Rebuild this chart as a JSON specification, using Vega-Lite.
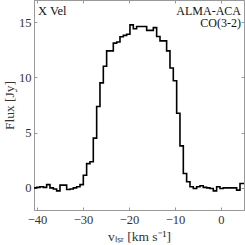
{
  "$schema": "https://vega.github.io/schema/vega-lite/v6.json",
  "width": 210,
  "height": 210,
  "autosize": {"type": "none"},
  "padding": {"left": 34, "top": 0, "right": 1, "bottom": 35},
  "background": "white",
  "config": {
    "view": {"stroke": "#999", "strokeWidth": 1},
    "font": "Liberation Serif",
    "axis": {
      "labelFont": "Liberation Serif",
      "titleFont": "Liberation Serif",
      "labelFontSize": 12.5,
      "titleFontSize": 13.5,
      "titleFontWeight": "normal",
      "labelColor": "#333",
      "titleColor": "#333",
      "domainColor": "#999",
      "tickColor": "#999",
      "tickSize": -3,
      "grid": false
    }
  },
  "layer": [
    {
      "data": {"name": "spec", "values": [
        {"v": -40.80, "flux": 0.0},
        {"v": -40.07, "flux": 0.05},
        {"v": -39.35, "flux": 0.1},
        {"v": -38.63, "flux": 0.05},
        {"v": -37.90, "flux": 0.3},
        {"v": -37.18, "flux": 0.0},
        {"v": -36.45, "flux": -0.1},
        {"v": -35.73, "flux": -0.27},
        {"v": -35.00, "flux": 0.25},
        {"v": -34.28, "flux": 0.25},
        {"v": -33.55, "flux": -0.15},
        {"v": -32.83, "flux": -0.1},
        {"v": -32.10, "flux": 0.0},
        {"v": -31.38, "flux": 0.1},
        {"v": -30.65, "flux": 0.3},
        {"v": -29.93, "flux": 1.15},
        {"v": -29.21, "flux": 2.2},
        {"v": -28.48, "flux": 2.36},
        {"v": -27.76, "flux": 4.5},
        {"v": -27.03, "flux": 7.36},
        {"v": -26.31, "flux": 9.5},
        {"v": -25.58, "flux": 11.0},
        {"v": -24.86, "flux": 12.4},
        {"v": -24.13, "flux": 12.4},
        {"v": -23.41, "flux": 13.1},
        {"v": -22.68, "flux": 13.2},
        {"v": -21.96, "flux": 13.67},
        {"v": -21.23, "flux": 13.8},
        {"v": -20.51, "flux": 13.9},
        {"v": -19.79, "flux": 14.75},
        {"v": -19.06, "flux": 14.4},
        {"v": -18.34, "flux": 14.6},
        {"v": -17.61, "flux": 14.6},
        {"v": -16.89, "flux": 14.6},
        {"v": -16.16, "flux": 14.25},
        {"v": -15.44, "flux": 14.25},
        {"v": -14.71, "flux": 14.5},
        {"v": -13.99, "flux": 13.7},
        {"v": -13.26, "flux": 13.3},
        {"v": -12.54, "flux": 13.3},
        {"v": -11.82, "flux": 12.4},
        {"v": -11.09, "flux": 10.85},
        {"v": -10.37, "flux": 9.7},
        {"v": -9.64, "flux": 6.76},
        {"v": -8.92, "flux": 3.8},
        {"v": -8.19, "flux": 1.3},
        {"v": -7.47, "flux": 0.55},
        {"v": -6.74, "flux": 0.1},
        {"v": -6.02, "flux": -0.06},
        {"v": -5.29, "flux": 0.1},
        {"v": -4.57, "flux": 0.2},
        {"v": -3.85, "flux": 0.05},
        {"v": -3.12, "flux": 0.0},
        {"v": -2.40, "flux": -0.06},
        {"v": -1.67, "flux": -0.27},
        {"v": -0.95, "flux": 0.1},
        {"v": -0.22, "flux": -0.05},
        {"v": 0.50, "flux": 0.0},
        {"v": 1.23, "flux": 0.0},
        {"v": 1.95, "flux": 0.0},
        {"v": 2.68, "flux": 0.0},
        {"v": 3.40, "flux": -0.2},
        {"v": 4.13, "flux": 0.4},
        {"v": 4.85, "flux": 0.4},
        {"v": 5.58, "flux": 0.4}
      ]},
      "mark": {"type": "line", "interpolate": "step-after", "color": "black", "strokeWidth": 1.6, "clip": true},
      "encoding": {
        "x": {
          "field": "v", "type": "quantitative",
          "scale": {"domain": [-40.65, 5], "nice": false, "zero": false},
          "axis": {"values": [-40, -30, -20, -10, 0], "title": "vₗₛᵣ [km s⁻¹]", "labelPadding": 6, "titlePadding": 4, "labelFlush": false}
        },
        "y": {
          "field": "flux", "type": "quantitative",
          "scale": {"domain": [-2, 17], "nice": false, "zero": false},
          "axis": {"values": [0, 5, 10, 15], "title": "Flux [Jy]", "labelPadding": 6, "titlePadding": 2}
        }
      }
    },
    {
      "data": {"values": [{"v": -40, "flux": 0}, {"v": 0, "flux": 15}]},
      "mark": {"type": "point", "opacity": 0},
      "encoding": {
        "x": {"field": "v", "type": "quantitative", "axis": {"orient": "top", "values": [-40, -30, -20, -10, 0], "labels": false, "title": null}},
        "y": {"field": "flux", "type": "quantitative", "axis": {"orient": "right", "values": [0, 5, 10, 15], "labels": false, "title": null}}
      }
    },
    {
      "data": {"values": [{"label": "X Vel"}]},
      "mark": {"type": "text", "align": "left", "baseline": "middle", "font": "Liberation Serif", "fontSize": 12.5, "color": "#111", "dx": 4, "dy": 11},
      "encoding": {"text": {"field": "label"}, "x": {"datum": -40.65, "type": "quantitative", "axis": null}, "y": {"datum": 17, "type": "quantitative", "axis": null}}
    },
    {
      "data": {"values": [{"label": "ALMA-ACA", "line": 0}, {"label": "CO(3-2)", "line": 1}]},
      "mark": {"type": "text", "align": "right", "baseline": "middle", "font": "Liberation Serif", "fontSize": 12, "color": "#111", "dx": -3},
      "encoding": {
        "text": {"field": "label"},
        "x": {"datum": 5, "type": "quantitative", "axis": null},
        "y": {"datum": 17, "type": "quantitative", "axis": null},
        "yOffset": {"field": "line", "type": "quantitative", "scale": {"domain": [0, 1], "range": [10.5, 23]}, "legend": null}
      }
    }
  ],
  "resolve": {"axis": {"x": "independent", "y": "independent"}}
}
